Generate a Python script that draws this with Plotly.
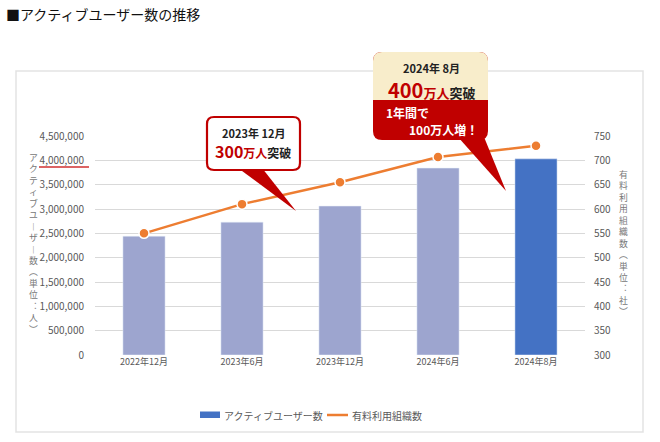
import plotly.graph_objects as go

# ---- data ----
categories = ["2022年12月", "2023年6月", "2023年12月", "2024年6月", "2024年8月"]
active_users = [2440000, 2730000, 3060000, 3840000, 4030000]
paid_orgs = [550, 610, 655, 707, 730]
user_ticks = [0, 500000, 1000000, 1500000, 2000000, 2500000, 3000000, 3500000, 4000000, 4500000]
org_ticks = [300, 350, 400, 450, 500, 550, 600, 650, 700, 750]
series_names = ["アクティブユーザー数", "有料利用組織数"]

FONT = "Noto Sans CJK JP"
W, H = 660, 442
L, R, T, B = 95, 75, 136, 87
PW, PH = W - L - R, H - T - B


def px(x):
    return (x - L) / PW


def py(y):
    return (H - B - y) / PH


def path(points, closed=True):
    s = ""
    for i, p in enumerate(points):
        if p[0] == "Q":
            (_, (cx, cy), (ex, ey)) = p
            s += f" Q{px(cx):.5f},{py(cy):.5f} {px(ex):.5f},{py(ey):.5f}"
        else:
            s += (" M" if i == 0 else " L") + f"{px(p[0]):.5f},{py(p[1]):.5f}"
    return s + (" Z" if closed else "")


def rrect(x0, y0, x1, y1, r, top=True, bottom=True):
    pts = []
    if top:
        pts += [(x0 + r, y0), (x1 - r, y0), ("Q", (x1, y0), (x1, y0 + r))]
    else:
        pts += [(x0, y0), (x1, y0)]
    if bottom:
        pts += [(x1, y1 - r), ("Q", (x1, y1), (x1 - r, y1)), (x0 + r, y1), ("Q", (x0, y1), (x0, y1 - r))]
    else:
        pts += [(x1, y1), (x0, y1)]
    if top:
        pts += [(x0, y0 + r), ("Q", (x0, y0), (x0 + r, y0))]
    return path(pts)


RED = "#C00000"
light = "#9DA5CF"
blue = "#4472C4"
orange = "#ED7D31"

fig = go.Figure()
fig.add_trace(go.Bar(x=categories[:-1], y=active_users[:-1], marker_color=light,
                     showlegend=False, name=series_names[0]))
fig.add_trace(go.Bar(x=categories[-1:], y=active_users[-1:], marker_color=blue,
                     showlegend=False, name=series_names[0]))
fig.add_trace(go.Scatter(x=categories, y=paid_orgs, yaxis="y2", mode="lines+markers",
                         name=series_names[1], showlegend=False,
                         line=dict(color=orange, width=2.5),
                         marker=dict(size=10, color=orange, line=dict(color="white", width=1.5))))

shapes = [
    # outer frame
    dict(type="rect", xref="paper", yref="paper", x0=px(16), x1=px(643), y0=py(432), y1=py(71),
         line=dict(color="#E3E3E3", width=1.5), layer="below"),
    # red underline under 4,000,000
    dict(type="line", xref="paper", yref="paper", x0=px(39), x1=px(89), y0=py(167), y1=py(167),
         line=dict(color="#D03030", width=1.5)),
    # callout 1 pointer + box
    dict(type="path", xref="paper", yref="paper",
         path=path([(238, 168), (262, 168), (296, 211)]), fillcolor=RED, line=dict(width=0)),
    dict(type="path", xref="paper", yref="paper", path=rrect(207, 117, 300, 170, 7),
         fillcolor="white", line=dict(color=RED, width=2.2)),
    # callout 2 pointer + box
    dict(type="path", xref="paper", yref="paper",
         path=path([(458, 137), (484, 137), (506, 191)]), fillcolor=RED, line=dict(width=0)),
    dict(type="path", xref="paper", yref="paper", path=rrect(373, 52, 488, 140, 9),
         fillcolor=RED, line=dict(width=0)),
    dict(type="path", xref="paper", yref="paper", path=rrect(373, 52, 488, 100, 9, bottom=False),
         fillcolor="#F8EDCB", line=dict(width=0)),
    # manual legend swatches
    dict(type="rect", xref="paper", yref="paper", x0=px(200), x1=px(220), y0=py(418), y1=py(411.5),
         fillcolor=blue, line=dict(width=0)),
    dict(type="line", xref="paper", yref="paper", x0=px(327), x1=px(348), y0=py(415), y1=py(415),
         line=dict(color=orange, width=2.5)),
]

ann = []


def A(text, x, y, size, color="#222", xanchor="center"):
    ann.append(dict(text=text, x=px(x), y=py(y), xref="paper", yref="paper", showarrow=False,
                    xanchor=xanchor, yanchor="middle", font=dict(family=FONT, size=size, color=color)))


A("<b>2023年 12月</b>", 253, 133, 11)
A(f"<b><span style='color:{RED};font-size:16px'>300</span><span style='color:{RED}'>万人</span>突破</b>",
  253, 151, 12)
A("<b>2024年 8月</b>", 431, 68, 11)
A(f"<b><span style='color:{RED};font-size:20px'>400</span><span style='color:{RED}'>万人</span>突破</b>",
  431, 89, 13)
A("<b>1年間で</b>", 384, 113, 12, "white", "left")
A("<b>100万人増！</b>", 407, 130, 12, "white", "left")

# legend texts
A(series_names[0], 222, 415, 10, "#595959", "left")
A(series_names[1], 350, 415, 10, "#595959", "left")

# vertical axis titles (upright vertical writing)
left_title = ["ア", "ク", "テ", "ィ", "ブ", "ユ", "︱", "ザ", "︱", "数", "︵", "単", "位", "︓", "人", "︶"]
right_title = ["有", "料", "利", "用", "組", "織", "数", "︵", "単", "位", "︓", "社", "︶"]
A("<br>".join(left_title), 33, 243, 8.8, "#777")
A("<br>".join(right_title), 623, 243, 8.8, "#777")

fig.update_layout(
    width=W, height=H,
    margin=dict(l=L, r=R, t=T, b=B),
    paper_bgcolor="white", plot_bgcolor="white",
    font=dict(family=FONT, size=10, color="#595959"),
    title=dict(text="■アクティブユーザー数の推移", xref="container", yref="container",
               x=6 / W, y=1 - 15 / H, xanchor="left", yanchor="middle",
               font=dict(family=FONT, size=14, color="#111")),
    barmode="overlay",
    bargap=0.57,
    showlegend=False,
    xaxis=dict(categoryorder="array", categoryarray=categories, showgrid=False,
               showline=False, ticks="", tickfont=dict(size=9, color="#595959")),
    yaxis=dict(range=[0, 4500000], tickvals=user_ticks, tickformat=",d", showgrid=True,
               gridcolor="#D9D9D9", gridwidth=1, zeroline=False, showline=False,
               tickfont=dict(size=10, color="#595959"), ticklabelstandoff=10),
    yaxis2=dict(range=[300, 750], tickvals=org_ticks, overlaying="y", side="right",
                showgrid=False, zeroline=False, showline=False,
                tickfont=dict(size=10, color="#595959"), ticklabelstandoff=8),
    shapes=shapes,
    annotations=ann,
)

fig.write_html("out.html", config={"displayModeBar": False},
               post_script="document.body.style.margin='0';document.body.style.overflow='hidden';")
